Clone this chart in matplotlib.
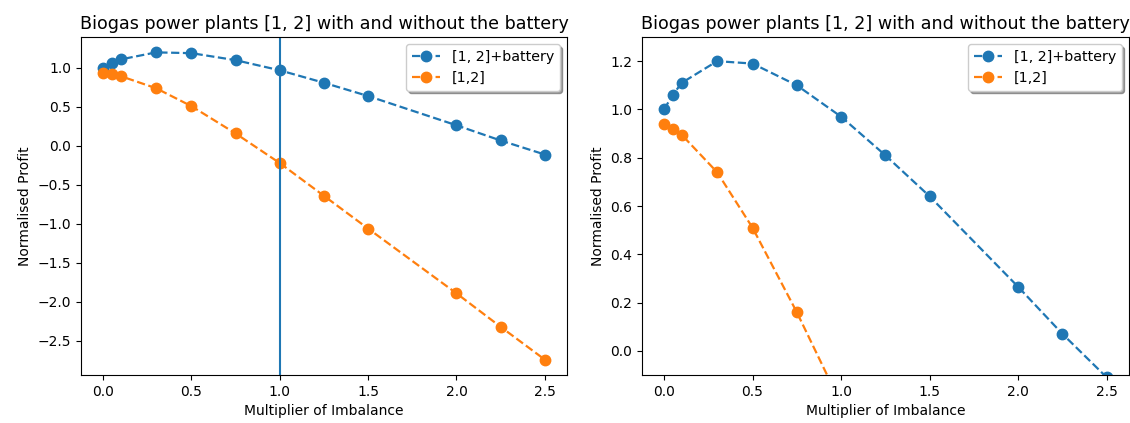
import matplotlib
matplotlib.use('Agg')
import matplotlib.pyplot as plt
import numpy as np

# multiplier of imbalance and normalised profit
mult = [0.0, 0.05, 0.1, 0.3, 0.5, 0.75, 1.0, 1.25, 1.5, 2.0, 2.25, 2.5]
with_battery = [1.0, 1.06, 1.11, 1.20, 1.19, 1.10, 0.97, 0.81, 0.64, 0.265, 0.07, -0.11]
without_battery = [0.94, 0.92, 0.895, 0.74, 0.51, 0.16, -0.22, -0.64, -1.06, -1.89, -2.32, -2.74]

title = 'Biogas power plants [1, 2] with and without the battery'
labels = ['[1, 2]+battery', '[1,2]']

fig = plt.figure(figsize=(11.3, 4.23), dpi=100)
ax1 = fig.add_axes([0.0717, 0.1135, 0.430, 0.799])
ax2 = fig.add_axes([0.568, 0.1135, 0.431, 0.799])

for ax in (ax1, ax2):
    ax.plot(mult, with_battery, 'o--', ms=7.5, lw=1.6, label=labels[0])
    ax.plot(mult, without_battery, 'o--', ms=7.5, lw=1.6, label=labels[1])
    ax.set_title(title, fontsize=12.6)
    ax.set_xlabel('Multiplier of Imbalance')
    ax.set_ylabel('Normalised Profit')
    ax.legend(shadow=True, fontsize=10.3)

ax1.axvline(1.0)
ax2.set_ylim(-0.1, 1.3)

plt.savefig('out.png', dpi=100)
